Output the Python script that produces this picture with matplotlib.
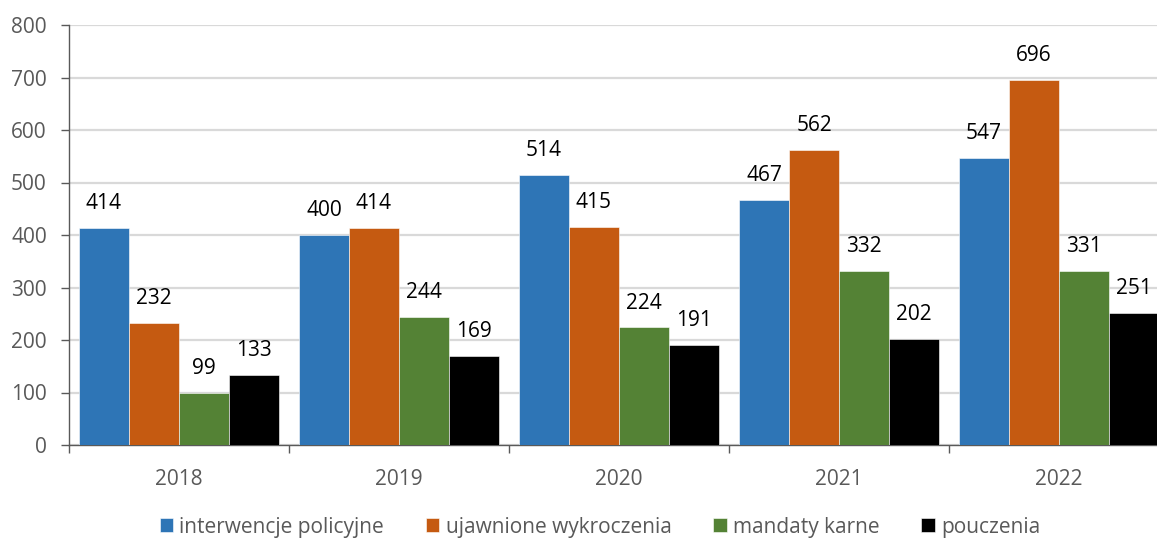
import matplotlib
matplotlib.use("Agg")
import matplotlib.pyplot as plt
import numpy as np

plt.rcParams['font.family'] = ['Open Sans', 'DejaVu Sans']

years = ['2018', '2019', '2020', '2021', '2022']
series_names = ['interwencje policyjne', 'ujawnione wykroczenia', 'mandaty karne', 'pouczenia']
interwencje = [414, 400, 514, 467, 547]
wykroczenia = [232, 414, 415, 562, 696]
mandaty = [99, 244, 224, 332, 331]
pouczenia = [133, 169, 191, 202, 251]
colors = ['#2E75B6', '#C55A11', '#548235', '#000000']

data = [interwencje, wykroczenia, mandaty, pouczenia]
grey = '#595959'
fs = 15

fig = plt.figure(figsize=(11.57, 5.40), dpi=100)
ax = fig.add_axes([69 / 1157, 95 / 540, 1100 / 1157, 420 / 540])

x = np.arange(len(years))
w = 50 / 220
offsets = np.array([-75, -25, 25, 75]) / 220
for i, vals in enumerate(data):
    bars = ax.bar(x + offsets[i], vals, width=w, color=colors[i], label=series_names[i],
                  edgecolor='white', linewidth=0.4, zorder=3)
    for b, v in zip(bars, vals):
        ax.annotate(str(v), (b.get_x() + b.get_width() / 2, v), xytext=(0, 10),
                    textcoords='offset points', ha='center', va='bottom',
                    fontsize=fs, color='black')

ax.set_xlim(-0.5, 4.5)
ax.set_ylim(0, 800)
ax.set_yticks(range(0, 801, 100))
ax.yaxis.grid(True, color='#D9D9D9', linewidth=1.6, zorder=0)
ax.set_axisbelow(True)

ax.set_xticks(x)
ax.set_xticklabels(years)
ax.set_xticks(np.arange(-0.5, 4.6, 1), minor=True)
ax.tick_params(axis='x', which='major', length=0, pad=17, labelsize=fs, labelcolor=grey)
ax.tick_params(axis='x', which='minor', length=6, width=1, color=grey, direction='out')
ax.tick_params(axis='y', length=6, width=1, color=grey, pad=10, labelsize=fs, labelcolor=grey)

for s in ['top', 'right']:
    ax.spines[s].set_visible(False)
for s in ['left', 'bottom']:
    ax.spines[s].set_color(grey)
    ax.spines[s].set_linewidth(1)

fig.legend(loc='center', bbox_to_anchor=(600 / 1157, 1 - 527 / 540), ncol=4, frameon=False,
           fontsize=fs, labelcolor=grey, handlelength=0.65, handleheight=0.65,
           handletextpad=0.3, columnspacing=2.0)

fig.savefig('out.png', dpi=100)
